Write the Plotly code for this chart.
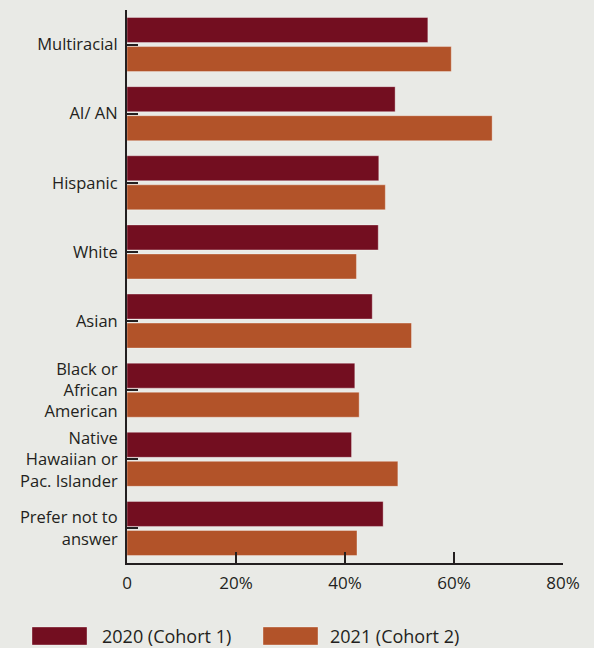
import plotly.graph_objects as go

categories = [
    "Multiracial",
    "AI/ AN",
    "Hispanic",
    "White",
    "Asian",
    "Black or<br>African<br>American",
    "Native<br>Hawaiian or<br>Pac. Islander",
    "Prefer not to<br>answer",
]
cohort_2020 = [55.2, 49.2, 46.2, 46.1, 45.0, 41.8, 41.2, 47.0]
cohort_2021 = [59.5, 67.0, 47.4, 42.1, 52.2, 42.6, 49.7, 42.2]
series_names = ["2020 (Cohort 1)", "2021 (Cohort 2)"]
x_tickvals = [0, 20, 40, 60, 80]
x_ticktext = ["0", "20%", "40%", "60%", "80%"]

C2020 = "#730E20"
C2021 = "#B25329"
BG = "#E9EAE6"
INK = "#231F20"
FONT = "Open Sans"

fig = go.Figure()
fig.add_trace(go.Bar(y=categories, x=cohort_2020, orientation="h", name=series_names[0],
                     marker=dict(color=C2020, line=dict(color="rgba(255,255,255,0.35)", width=1))))
fig.add_trace(go.Bar(y=categories, x=cohort_2021, orientation="h", name=series_names[1],
                     marker=dict(color=C2021, line=dict(color="rgba(255,255,255,0.35)", width=1))))

fig.update_layout(
    width=594, height=648,
    margin=dict(l=127, r=31, t=10, b=85),
    paper_bgcolor=BG, plot_bgcolor=BG,
    barmode="group", bargap=0.16, bargroupgap=0.138,
    showlegend=False,
    font=dict(family=FONT, size=16, color=INK, weight=500),
)
fig.update_xaxes(
    range=[0, 80], tickvals=x_tickvals, ticktext=x_ticktext,
    showgrid=False, zeroline=False,
    showline=True, linecolor=INK, linewidth=2,
    ticks="inside", ticklen=11, tickwidth=2, tickcolor=INK,
    tickfont=dict(size=17, color=INK, weight=500), ticklabelstandoff=4,
)
fig.update_yaxes(
    autorange="reversed", showgrid=False, zeroline=False,
    showline=True, linecolor=INK, linewidth=2,
    ticks="inside", ticklen=11, tickwidth=2, tickcolor=INK,
    tickfont=dict(size=16.5, color=INK, weight=500), ticklabelstandoff=4,
)

# custom legend with large swatches
legend_items = [(-0.2179, -0.0917, -0.0619, C2020, series_names[0]),
                (0.3119, 0.4381, 0.4610, C2021, series_names[1])]
for x0, x1, tx, col, name in legend_items:
    fig.add_shape(type="rect", xref="paper", yref="paper", x0=x0, x1=x1, y0=-0.1483, y1=-0.1157,
                  fillcolor=col, line=dict(color="rgba(255,255,255,0.35)", width=1))
    fig.add_annotation(xref="paper", yref="paper", x=tx, y=-0.132, text=name, showarrow=False,
                       xanchor="left", yanchor="middle",
                       font=dict(size=18, color=INK, family=FONT, weight=500))

fig.write_html("out.html", config={"displayModeBar": False},
               post_script="document.body.style.margin='0';")
